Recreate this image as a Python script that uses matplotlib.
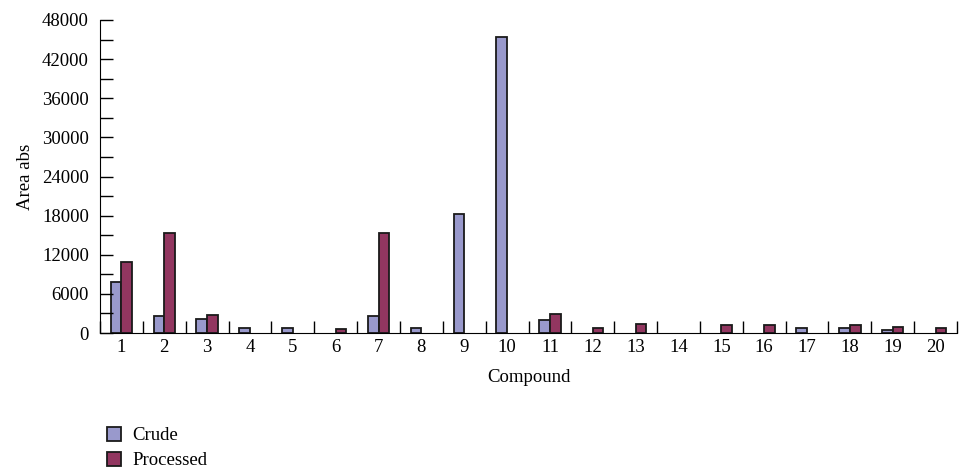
import numpy as np
import matplotlib
matplotlib.use("Agg")
import matplotlib.pyplot as plt
from matplotlib.ticker import MultipleLocator, FixedLocator

plt.rcParams['font.family'] = ['Liberation Serif', 'DejaVu Serif']

# DATA
compounds = [str(i) for i in range(1, 21)]
crude = [7750, 2550, 2150, 750, 750, 0, 2600, 750, 18300, 45400,
         2050, 0, 0, 0, 0, 0, 800, 800, 450, 0]
processed = [10900, 15300, 2700, 0, 0, 600, 15300, 0, 0, 0,
             2850, 700, 1450, 0, 1200, 1300, 0, 1300, 900, 750]

fs = 13.5

fig = plt.figure(figsize=(9.74, 4.72), dpi=100)
ax = fig.add_axes([100 / 974, 1 - 333 / 472, 857 / 974, 313 / 472])

x = np.arange(len(compounds))
w = 0.25
# zero values are left out, otherwise the edge line shows on the axis
crude_v = np.where(np.array(crude) > 0, crude, np.nan)
proc_v = np.where(np.array(processed) > 0, processed, np.nan)
ax.bar(x - w / 2, crude_v, w, color='#9999cc', edgecolor='#1a1a1a',
       linewidth=1.3, label='Crude')
ax.bar(x + w / 2, proc_v, w, color='#923660', edgecolor='#1a1a1a',
       linewidth=1.3, label='Processed')

ax.set_xlim(-0.5, len(compounds) - 0.5)
ax.set_ylim(0, 48000)

ax.spines['top'].set_visible(False)
ax.spines['right'].set_visible(False)

ax.set_xticks(x)
ax.set_xticklabels(compounds, fontsize=fs)
ax.tick_params(axis='x', which='major', length=0, pad=4)
ax.xaxis.set_minor_locator(FixedLocator(np.arange(-0.5, len(compounds), 1)))
ax.tick_params(axis='x', which='minor', direction='in', length=9, width=1)

ax.yaxis.set_major_locator(MultipleLocator(6000))
ax.yaxis.set_minor_locator(MultipleLocator(3000))
ax.tick_params(axis='y', which='both', direction='in', length=9, width=1,
               labelsize=fs, pad=8)

ax.set_xlabel('Compound', fontsize=fs, labelpad=10)
ax.set_ylabel('Area abs', fontsize=fs, labelpad=6)

fig.legend(loc='lower left', bbox_to_anchor=(90 / 974, -0.03), frameon=False,
           fontsize=fs, handlelength=0.75, handleheight=0.75, handletextpad=0.6,
           labelspacing=0.4)

fig.savefig('out.png', dpi=100)
